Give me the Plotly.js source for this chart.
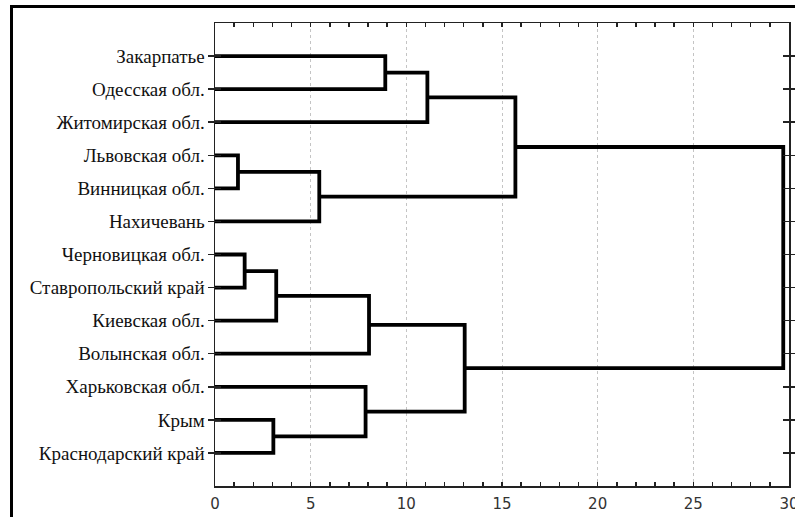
<!DOCTYPE html>
<html>
<head>
<meta charset="utf-8">
<script src="https://cdn.plot.ly/plotly-3.0.1.min.js"></script>
<style>
  html, body { margin: 0; padding: 0; background: #fff; }
  #wrap { position: relative; width: 795px; height: 517px; overflow: hidden; }
  #chart { position: absolute; left: 0; top: 0; width: 795px; height: 517px; }
  #frame { position: absolute; left: 10px; top: 5px; width: 800px; height: 600px;
           border-top: 3px solid #000; border-left: 3px solid #000; pointer-events: none; }
</style>
</head>
<body>
<div id="wrap">
  <div id="chart"></div>
  <div id="frame"></div>
</div>
<script>
// Leaves, top to bottom
const labels = [
  "Закарпатье", "Одесская обл.", "Житомирская обл.", "Львовская обл.",
  "Винницкая обл.", "Нахичевань", "Черновицкая обл.", "Ставропольский край",
  "Киевская обл.", "Волынская обл.", "Харьковская обл.", "Крым", "Краснодарский край"
];
// Linkage: cluster n+k joins mergeLeft[k] and mergeRight[k] at mergeHeight[k]
const mergeLeft   = [0, 13, 3, 15, 14, 6, 18, 19, 11, 10, 20, 17];
const mergeRight  = [1, 2, 4, 5, 16, 7, 8, 9, 12, 21, 22, 23];
const mergeHeight = [8.9, 11.1, 1.2, 5.45, 15.7, 1.55, 3.2, 8.05, 3.05, 7.87, 13.05, 29.7];
const xTicks = [0, 5, 10, 15, 20, 25, 30];

const n = labels.length;
const pos = [], hgt = [];
for (let i = 0; i < n; i++) { pos.push(i + 1); hgt.push(0); }
const xs = [], ys = [];
for (let k = 0; k < mergeHeight.length; k++) {
  const a = mergeLeft[k], b = mergeRight[k], h = mergeHeight[k];
  xs.push(hgt[a], h, h, hgt[b], null);
  ys.push(pos[a], pos[a], pos[b], pos[b], null);
  pos.push((pos[a] + pos[b]) / 2);
  hgt.push(h);
}

const traces = [
  {
    type: 'scatter', mode: 'lines', x: xs, y: ys,
    line: { color: '#000', width: 3.8 }, hoverinfo: 'skip', showlegend: false
  },
  { type: 'scatter', mode: 'lines', x: [0], y: [0], xaxis: 'x2', yaxis: 'y',
    line: { width: 0 }, hoverinfo: 'skip', showlegend: false }
];

const axisLine = { showline: true, linecolor: '#222', linewidth: 1.5, zeroline: false };

const layout = {
  width: 795, height: 517,
  margin: { l: 215, r: 6, t: 23, b: 31, pad: 0 },
  paper_bgcolor: '#fff', plot_bgcolor: '#fff',
  showlegend: false,
  xaxis: Object.assign({}, axisLine, {
    range: [0, 30], tickvals: xTicks, ticktext: xTicks.map(String),
    showgrid: true, gridcolor: '#c4c4c4', griddash: 'dot', gridwidth: 1,
    ticks: 'inside', ticklen: 4, tickcolor: '#222', tickwidth: 1.5,
    minor: { dtick: 1, ticks: 'inside', ticklen: 4, tickcolor: '#222', tickwidth: 1.5, showgrid: false },
    ticklabeloverflow: 'allow',
    ticklabelstandoff: 3,
    tickfont: { family: 'DejaVu Sans, Verdana, sans-serif', size: 15, color: '#333' },
    fixedrange: true
  }),
  xaxis2: Object.assign({}, axisLine, {
    overlaying: 'x', side: 'top', matches: 'x', range: [0, 30],
    showgrid: false, showticklabels: false,
    dtick: 1, tick0: 0, ticks: 'inside', ticklen: 4, tickcolor: '#222', tickwidth: 1.5,
    fixedrange: true
  }),
  yaxis: Object.assign({}, axisLine, {
    range: [14, 0], tickvals: labels.map((_, i) => i + 1), ticktext: labels,
    showgrid: false,
    mirror: 'allticks', ticks: 'inside', ticklen: 6, tickcolor: '#222', tickwidth: 1.5,
    ticklabelstandoff: 5,
    tickfont: { family: 'Liberation Serif, Times New Roman, serif', size: 19, color: '#111' },
    fixedrange: true
  })
};

Plotly.newPlot('chart', traces, layout, { staticPlot: true, displayModeBar: false });
</script>
</body>
</html>
